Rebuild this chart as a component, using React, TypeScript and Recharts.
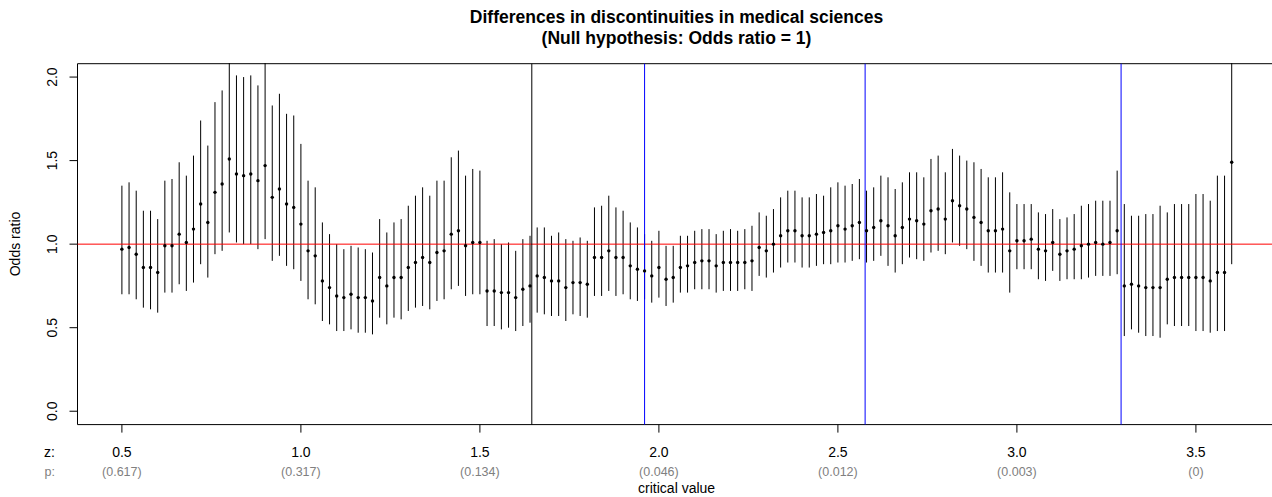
import React from "react";
import {
  ComposedChart,
  Scatter,
  ErrorBar,
  XAxis,
  YAxis,
  ReferenceLine,
  ReferenceArea,
} from "recharts";

// critical values (x)
const zValues = [
  0.5, 0.52, 0.54, 0.56, 0.58, 0.6, 0.62, 0.64, 0.66, 0.68,
  0.7, 0.72, 0.74, 0.76, 0.78, 0.8, 0.82, 0.84, 0.86, 0.88,
  0.9, 0.92, 0.94, 0.96, 0.98, 1.0, 1.02, 1.04, 1.06, 1.08,
  1.1, 1.12, 1.14, 1.16, 1.18, 1.2, 1.22, 1.24, 1.26, 1.28,
  1.3, 1.32, 1.34, 1.36, 1.38, 1.4, 1.42, 1.44, 1.46, 1.48,
  1.5, 1.52, 1.54, 1.56, 1.58, 1.6, 1.62, 1.64, 1.66, 1.68,
  1.7, 1.72, 1.74, 1.76, 1.78, 1.8, 1.82, 1.84, 1.86, 1.88,
  1.9, 1.92, 1.94, 1.96, 1.98, 2.0, 2.02, 2.04, 2.06, 2.08,
  2.1, 2.12, 2.14, 2.16, 2.18, 2.2, 2.22, 2.24, 2.26, 2.28,
  2.3, 2.32, 2.34, 2.36, 2.38, 2.4, 2.42, 2.44, 2.46, 2.48,
  2.5, 2.52, 2.54, 2.56, 2.58, 2.6, 2.62, 2.64, 2.66, 2.68,
  2.7, 2.72, 2.74, 2.76, 2.78, 2.8, 2.82, 2.84, 2.86, 2.88,
  2.9, 2.92, 2.94, 2.96, 2.98, 3.0, 3.02, 3.04, 3.06, 3.08,
  3.1, 3.12, 3.14, 3.16, 3.18, 3.2, 3.22, 3.24, 3.26, 3.28,
  3.3, 3.32, 3.34, 3.36, 3.38, 3.4, 3.42, 3.44, 3.46, 3.48,
  3.5, 3.52, 3.54, 3.56, 3.58, 3.6,
];

// odds ratio estimates
const oddsRatio = [
  0.97, 0.98, 0.94, 0.86, 0.86, 0.83, 0.99, 0.99, 1.06, 1.01,
  1.09, 1.24, 1.13, 1.31, 1.36, 1.51, 1.42, 1.41, 1.42, 1.38,
  1.47, 1.28, 1.33, 1.24, 1.22, 1.12, 0.96, 0.93, 0.78, 0.74,
  0.69, 0.68, 0.7, 0.68, 0.68, 0.66, 0.8, 0.75, 0.8, 0.8,
  0.86, 0.89, 0.92, 0.89, 0.95, 0.96, 1.06, 1.08, 0.99, 1.01,
  1.01, 0.72, 0.72, 0.71, 0.71, 0.68, 0.73, 0.75, 0.81, 0.8,
  0.78, 0.78, 0.74, 0.77, 0.77, 0.76, 0.92, 0.92, 0.96, 0.92,
  0.92, 0.87, 0.85, 0.84, 0.81, 0.86, 0.79, 0.8, 0.86, 0.87,
  0.89, 0.9, 0.9, 0.87, 0.89, 0.89, 0.89, 0.89, 0.9, 0.98,
  0.96, 1.0, 1.05, 1.08, 1.08, 1.05, 1.05, 1.06, 1.07, 1.08,
  1.11, 1.09, 1.11, 1.13, 1.08, 1.1, 1.14, 1.11, 1.05, 1.1,
  1.15, 1.14, 1.12, 1.2, 1.21, 1.15, 1.26, 1.23, 1.21, 1.16,
  1.13, 1.08, 1.08, 1.09, 0.96, 1.02, 1.02, 1.03, 0.97, 0.96,
  1.01, 0.94, 0.96, 0.97, 0.99, 1.0, 1.01, 1.0, 1.01, 1.08,
  0.75, 0.76, 0.75, 0.74, 0.74, 0.74, 0.79, 0.8, 0.8, 0.8,
  0.8, 0.8, 0.78, 0.83, 0.83, 1.49,
];

// lower confidence limits
const lower = [
  0.7, 0.7, 0.67, 0.62, 0.61, 0.59, 0.71, 0.71, 0.76, 0.72,
  0.77, 0.88, 0.8, 0.94, 0.96, 1.07, 1.01, 1.0, 1.0, 0.97,
  1.03, 0.9, 0.93, 0.87, 0.85, 0.78, 0.67, 0.64, 0.54, 0.52,
  0.48, 0.48, 0.49, 0.47, 0.47, 0.46, 0.56, 0.52, 0.56, 0.55,
  0.6, 0.62, 0.63, 0.61, 0.66, 0.67, 0.73, 0.75, 0.69, 0.7,
  0.7, 0.51, 0.51, 0.49, 0.5, 0.48, 0.51, 0.53, 0.59, 0.58,
  0.57, 0.57, 0.54, 0.58, 0.57, 0.56, 0.69, 0.69, 0.72, 0.69,
  0.7, 0.67, 0.66, 0.67, 0.65, 0.68, 0.63, 0.65, 0.71, 0.71,
  0.73, 0.73, 0.73, 0.71, 0.72, 0.72, 0.72, 0.73, 0.72, 0.81,
  0.8, 0.83, 0.86, 0.89, 0.89, 0.86, 0.86, 0.87, 0.88, 0.88,
  0.89, 0.89, 0.9, 0.91, 0.89, 0.9, 0.93, 0.87, 0.83, 0.88,
  0.92, 0.91, 0.9, 0.95, 0.96, 0.94, 1.01, 0.99, 0.97, 0.9,
  0.87, 0.83, 0.83, 0.83, 0.71, 0.85, 0.85, 0.85, 0.79, 0.78,
  0.84, 0.78, 0.79, 0.79, 0.79, 0.8, 0.81, 0.81, 0.81, 0.82,
  0.45, 0.49, 0.47, 0.45, 0.45, 0.44, 0.52, 0.51, 0.51, 0.51,
  0.48, 0.48, 0.47, 0.48, 0.48, 0.88,
];

// upper confidence limits
const upper = [
  1.35, 1.37, 1.32, 1.2, 1.2, 1.15, 1.38, 1.39, 1.49, 1.41,
  1.53, 1.74, 1.59, 1.85, 1.92, 2.2, 2.01, 2.0, 2.01, 1.95,
  2.15, 1.83, 1.9, 1.78, 1.77, 1.6, 1.38, 1.34, 1.13, 1.06,
  1.0, 0.97, 0.99, 0.98, 0.97, 0.95, 1.15, 1.07, 1.13, 1.15,
  1.23, 1.29, 1.34, 1.29, 1.38, 1.38, 1.52, 1.56, 1.41, 1.45,
  1.44, 1.02, 1.03, 1.0, 1.01, 0.96, 1.03, 1.05, 1.1, 1.1,
  1.05, 1.07, 1.03, 1.02, 1.04, 1.02, 1.22, 1.23, 1.29, 1.22,
  1.2, 1.13, 1.1, 1.06, 1.02, 1.08, 0.99, 0.99, 1.05, 1.05,
  1.08, 1.09, 1.09, 1.06, 1.08, 1.09, 1.08, 1.09, 1.11, 1.19,
  1.17, 1.21, 1.28, 1.32, 1.32, 1.28, 1.28, 1.3, 1.29, 1.34,
  1.37, 1.35, 1.36, 1.39, 1.32, 1.34, 1.41, 1.4, 1.33, 1.37,
  1.43, 1.43, 1.4, 1.51, 1.53, 1.43, 1.57, 1.53, 1.5, 1.49,
  1.45, 1.4, 1.4, 1.43, 1.31, 1.24, 1.24, 1.24, 1.19, 1.18,
  1.21, 1.15, 1.16, 1.18, 1.23, 1.24, 1.26, 1.26, 1.26, 1.44,
  1.24, 1.17, 1.17, 1.18, 1.18, 1.23, 1.19, 1.24, 1.24, 1.24,
  1.3, 1.3, 1.26, 1.41, 1.41, 2.5,
];

const xTicks = [0.5, 1.0, 1.5, 2.0, 2.5, 3.0, 3.5];
const pLabels = ["(0.617)", "(0.317)", "(0.134)", "(0.046)", "(0.012)", "(0.003)", "(0)"];
const yTicks = [0, 0.5, 1.0, 1.5, 2.0];

const sigLines = [1.96, 2.576, 3.291];
const tenPercent = 1.645;

const FONT = '"Liberation Sans", Arial, Helvetica, sans-serif';

const rows = zValues.map((z, i) => ({
  z,
  or: oddsRatio[i],
  err: [oddsRatio[i] - lower[i], upper[i] - oddsRatio[i]],
}));

function XTick(props: any) {
  const { x, y, payload, index } = props;
  return (
    <g>
      <text
        x={x}
        y={y + 19.5}
        textAnchor="middle"
        dominantBaseline="central"
        fontSize={14}
        fontFamily={FONT}
        fill="#000"
      >
        {payload.value.toFixed(1)}
      </text>
      <text
        x={x}
        y={y + 39.5}
        textAnchor="middle"
        dominantBaseline="central"
        fontSize={12.5}
        fontFamily={FONT}
        fill="#808080"
      >
        {pLabels[index]}
      </text>
    </g>
  );
}

function YTick(props: any) {
  const { x, y, payload } = props;
  const cx = x - 17.5;
  return (
    <text
      x={cx}
      y={y}
      textAnchor="middle"
      dominantBaseline="central"
      fontSize={14}
      fontFamily={FONT}
      fill="#000"
      transform={`rotate(-90, ${cx}, ${y})`}
    >
      {payload.value.toFixed(1)}
    </text>
  );
}

const Dot = (p: any) => <circle cx={p.cx} cy={p.cy} r={1.7} fill="#000" />;

export default function App() {
  return (
    <div
      style={{
        position: "absolute",
        left: 0,
        top: 0,
        width: 1272,
        height: 497,
        overflow: "hidden",
        background: "#fff",
        fontFamily: FONT,
      }}
    >
      <ComposedChart
        width={1290}
        height={497}
        data={rows}
        margin={{ top: 63.7, right: 13.9, bottom: 0, left: 0 }}
      >
        <XAxis
          type="number"
          dataKey="z"
          domain={[0.376, 3.724]}
          allowDataOverflow
          ticks={xTicks}
          interval={0}
          height={72.4}
          axisLine={false}
          tickSize={8}
          tickMargin={0}
          tickLine={{ stroke: "#000" }}
          tick={<XTick />}
        />
        <YAxis
          type="number"
          dataKey="or"
          domain={[-0.08, 2.08]}
          allowDataOverflow
          ticks={yTicks}
          interval={0}
          width={77.5}
          axisLine={false}
          tickSize={8}
          tickMargin={0}
          tickLine={{ stroke: "#000" }}
          tick={<YTick />}
        />
        <ReferenceArea
          x1={0.376}
          x2={3.724}
          y1={-0.08}
          y2={2.08}
          fill="none"
          fillOpacity={0}
          stroke="#000"
          strokeWidth={1}
        />
        <Scatter dataKey="or" shape={Dot} isAnimationActive={false}>
          <ErrorBar
            dataKey="err"
            direction="y"
            width={0}
            stroke="#000"
            strokeWidth={1}
            isAnimationActive={false}
          />
        </Scatter>
        <ReferenceLine y={1} stroke="#ff0000" strokeWidth={1} />
        <ReferenceLine x={tenPercent} stroke="#000" strokeWidth={1} />
        {sigLines.map((v) => (
          <ReferenceLine key={v} x={v} stroke="#0000ff" strokeWidth={1} />
        ))}
      </ComposedChart>

      {/* hide the parts of the intervals that run above the plot box */}
      <div
        style={{
          position: "absolute",
          left: 70,
          top: 0,
          width: 1210,
          height: 63,
          background: "#fff",
        }}
      />

      <div
        style={{
          position: "absolute",
          left: 0,
          width: 1353,
          top: 7,
          textAlign: "center",
          fontWeight: "bold",
          fontSize: 17.5,
          lineHeight: "21px",
          color: "#000",
        }}
      >
        Differences in discontinuities in medical sciences
        <br />
        (Null hypothesis: Odds ratio = 1)
      </div>
      <div
        style={{
          position: "absolute",
          left: 15,
          top: 244,
          transform: "translate(-50%, -50%) rotate(-90deg)",
          fontSize: 14,
          whiteSpace: "nowrap",
        }}
      >
        Odds ratio
      </div>
      <div
        style={{
          position: "absolute",
          left: 55,
          top: 452,
          transform: "translate(-100%, -50%)",
          fontSize: 14,
        }}
      >
        z:
      </div>
      <div
        style={{
          position: "absolute",
          left: 55,
          top: 472,
          transform: "translate(-100%, -50%)",
          fontSize: 12.5,
          color: "#808080",
        }}
      >
        p:
      </div>
      <div
        style={{
          position: "absolute",
          left: 676.6,
          top: 488,
          transform: "translate(-50%, -50%)",
          fontSize: 14,
          whiteSpace: "nowrap",
        }}
      >
        critical value
      </div>
    </div>
  );
}
